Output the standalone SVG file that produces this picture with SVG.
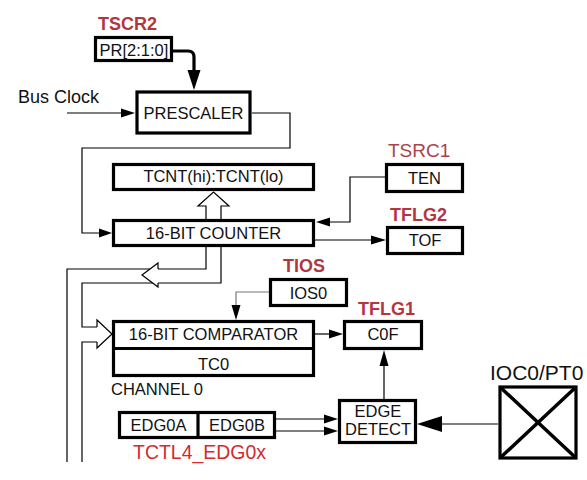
<svg xmlns="http://www.w3.org/2000/svg" width="587" height="480" viewBox="0 0 587 480">
<style>
text{font-family:"Liberation Sans",Arial,sans-serif;fill:#111}
.b{fill:#fff;stroke:#000;stroke-width:3.2}
.t{font-size:16.5px;text-anchor:middle}
.r{fill:#b3363f;font-weight:bold;font-size:18px}
.w{fill:none;stroke:#000;stroke-width:1.2}
.h{fill:#000;stroke:none}
.ho{fill:#fff;stroke:#000;stroke-width:1.2}
</style>
<rect width="587" height="480" fill="#fff"/>
<g id="connectors">
<path class="w" d="M67,113H122"/><polygon class="h" points="121,108.5 135,113 121,117.5"/>
<path d="M173,51H188Q194,51 194,57V72" fill="none" stroke="#000" stroke-width="3.2"/><polygon class="h" points="187.5,70 200.5,70 194,90"/>
<path class="w" d="M252,113H290V148H82V233H100"/><polygon class="h" points="99,228.5 112,233 99,237.5"/>
<path class="ho" d="M206,219V206H198L213.5,192L229,206H221V219"/>
<path class="w" d="M206,247V269H67V462"/>
<path class="w" d="M221,247V283H82V327H97"/>
<path class="w" d="M97,342H82V462"/>
<path class="ho" d="M97,327V320L112,334L97,348V342"/>
<path class="ho" d="M158,269V263L142,275L158,287V283"/>
<path class="w" d="M385,177H350V222H329"/><polygon class="h" points="330,217.5 316,222 330,226.5"/>
<path class="w" d="M315,240H372"/><polygon class="h" points="371,235.5 386,240 371,244.5"/>
<path d="M269,292H236V306" fill="none" stroke="#777" stroke-width="1.2"/><polygon class="h" points="231.5,305 240.5,305 236,320"/>
<path class="w" d="M315,334H330"/><polygon class="h" points="329,329.5 343,334 329,338.5"/>
<path class="w" d="M384,399V366"/><polygon class="h" points="379.5,366 388.5,366 384,350"/>
<path class="w" d="M276,419H326M276,431H326"/><polygon class="h" points="324,414.5 338,419 324,423.5"/><polygon class="h" points="324,426.5 338,431 324,435.5"/>
<path class="w" d="M498,424H440"/><polygon class="h" points="442,416 417,424 442,432"/>
</g>
<text class="r" x="98" y="30">TSCR2</text>
<g id="pr"><rect class="b" x="95.5" y="37.5" width="76" height="23"/><text class="t" x="134" y="56">PR[2:1:0]</text></g>
<text x="18" y="103" font-size="18">Bus Clock</text>
<g id="prescaler"><rect class="b" x="137" y="92" width="113" height="41" stroke-width="4"/><text class="t" x="193.5" y="118.5">PRESCALER</text></g>
<g id="tcnt"><rect class="b" x="113.5" y="164.5" width="200" height="25"/><text class="t" x="213.5" y="182">TCNT(hi):TCNT(lo)</text></g>
<g id="counter"><rect class="b" x="113.5" y="220.5" width="200" height="25"/><text class="t" x="213.5" y="239">16-BIT COUNTER</text></g>
<text x="388" y="157" font-size="19" style="fill:#a8444a">TSRC1</text>
<g id="ten"><rect class="b" x="386.5" y="164.5" width="76" height="27"/><text class="t" x="424.5" y="184">TEN</text></g>
<text class="r" x="390" y="221">TFLG2</text>
<g id="tof"><rect class="b" x="387.5" y="227.5" width="75" height="26"/><text class="t" x="425" y="245.5">TOF</text></g>
<text class="r" x="283" y="272">TIOS</text>
<g id="ios0"><rect class="b" x="270.5" y="279.5" width="76" height="26"/><text class="t" x="308.5" y="299" font-size="18">IOS0</text></g>
<text class="r" x="358" y="315">TFLG1</text>
<g id="comparator"><rect class="b" x="113.5" y="321.5" width="200" height="54"/><line x1="113.5" y1="348.5" x2="313.5" y2="348.5" stroke="#000" stroke-width="3.2"/><text class="t" x="213.5" y="340" font-size="17">16-BIT COMPARATOR</text><text class="t" x="213.5" y="369.5">TC0</text></g>
<text x="111" y="395" font-size="16.5">CHANNEL 0</text>
<g id="c0f"><rect class="b" x="344.5" y="321.5" width="77" height="27"/><text class="t" x="383" y="340">C0F</text></g>
<g id="edg"><rect class="b" x="119.5" y="412.5" width="155" height="25"/><line x1="198" y1="412.5" x2="198" y2="437.5" stroke="#000" stroke-width="3.2"/><text class="t" x="158.5" y="431" font-size="17">EDG0A</text><text class="t" x="237" y="431" font-size="17">EDG0B</text></g>
<text x="133" y="459" font-size="20" textLength="133" lengthAdjust="spacingAndGlyphs" style="fill:#d42a2e">TCTL4_EDG0x</text>
<g id="edge"><rect class="b" x="339.5" y="400.5" width="76" height="42"/><text class="t" x="378" y="416.5" font-size="16">EDGE</text><text class="t" x="378" y="434.5" font-size="16">DETECT</text></g>
<text x="490" y="380" font-size="21">IOC0/PT0</text>
<g id="ioc0"><rect class="b" x="500" y="387" width="76" height="71" stroke-width="4"/><path d="M500,387L576,458M576,387L500,458" stroke="#000" stroke-width="3.5"/></g>
</svg>
